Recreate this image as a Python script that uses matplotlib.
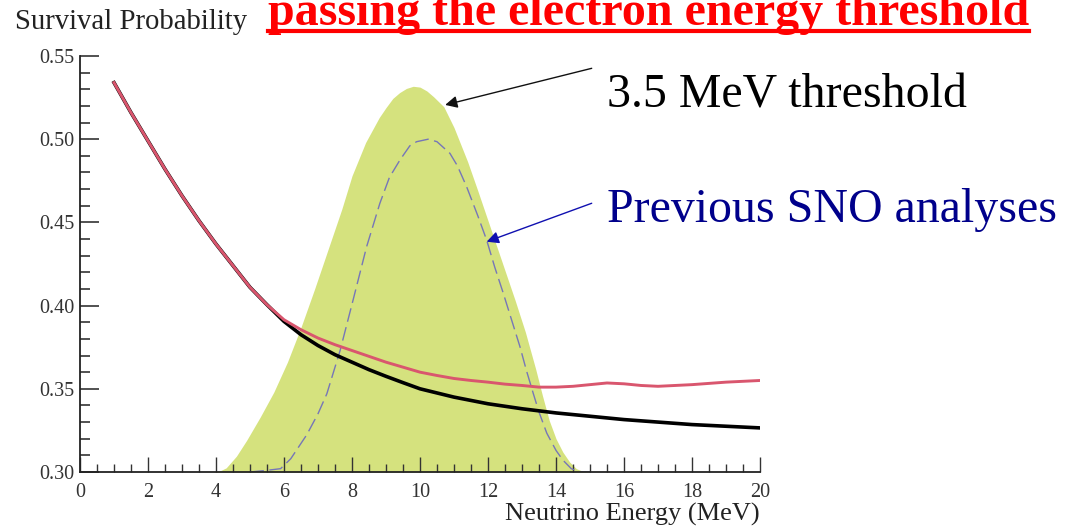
import matplotlib
matplotlib.use("Agg")
import matplotlib.pyplot as plt
from matplotlib.lines import Line2D
from matplotlib.ticker import MultipleLocator

plt.rcParams.update({
    "font.family": ["Liberation Serif", "DejaVu Serif"],
    "font.size": 14,
    "axes.linewidth": 1.3,
    "axes.edgecolor": "#222222",
})

# survival probability curves (neutrino energy in MeV)
energy_black = [1.0, 1.5, 2.0, 2.5, 3.0, 3.5, 4.0, 4.5, 5.0, 5.5, 6.0, 6.5,
                7.0, 7.5, 8.0, 8.5, 9.0, 9.5, 10.0, 11.0, 12.0, 13.0, 14.0,
                15.0, 16.0, 17.0, 18.0, 19.0, 20.0]
prob_black = [0.534, 0.516, 0.499, 0.482, 0.466, 0.451, 0.437, 0.424, 0.411,
              0.4005, 0.3905, 0.3825, 0.376, 0.3705, 0.366, 0.3615, 0.3575,
              0.3537, 0.350, 0.345, 0.341, 0.338, 0.3355, 0.3335, 0.3315,
              0.330, 0.3285, 0.3275, 0.3265]

energy_red = [1.0, 1.5, 2.0, 2.5, 3.0, 3.5, 4.0, 4.5, 5.0, 5.5, 6.0, 6.5,
              7.0, 7.5, 8.0, 8.5, 9.0, 9.5, 10.0, 10.5, 11.0, 11.5, 12.0,
              12.5, 13.0, 13.5, 14.0, 14.5, 15.0, 15.5, 16.0, 16.5, 17.0,
              17.5, 18.0, 19.0, 20.0]
prob_red = [0.534, 0.516, 0.499, 0.482, 0.466, 0.451, 0.437, 0.424, 0.411,
            0.4005, 0.3915, 0.3855, 0.3805, 0.3765, 0.373, 0.3695, 0.366,
            0.363, 0.360, 0.358, 0.3562, 0.355, 0.354, 0.3528, 0.352, 0.351,
            0.351, 0.3515, 0.3525, 0.3535, 0.353, 0.352, 0.3515, 0.352,
            0.3525, 0.354, 0.355]

# detected spectrum, 3.5 MeV threshold (filled)
energy_thr35 = [3.9, 4.1, 4.3, 4.6, 4.9, 5.3, 5.7, 6.1, 6.5, 6.9, 7.3, 7.7,
                8.0, 8.4, 8.8, 9.0, 9.2, 9.4, 9.6, 9.8, 10.0, 10.2, 10.4,
                10.7, 11.0, 11.4, 11.7, 12.1, 12.4, 12.8, 13.1, 13.4, 13.6,
                13.8, 14.0, 14.2, 14.4, 14.6, 14.8, 15.0]
level_thr35 = [0.300, 0.3005, 0.3025, 0.3095, 0.319, 0.333, 0.348, 0.366,
               0.387, 0.410, 0.434, 0.458, 0.478, 0.498, 0.513, 0.519,
               0.5245, 0.528, 0.5305, 0.5318, 0.5313, 0.529, 0.5255, 0.5195,
               0.507, 0.4865, 0.469, 0.445, 0.427, 0.403, 0.384, 0.362,
               0.346, 0.331, 0.320, 0.312, 0.306, 0.302, 0.3003, 0.300]

# spectrum used in previous SNO analyses (dashed)
energy_prev = [5.0, 5.5, 5.9, 6.2, 6.67, 7.0, 7.26, 7.65, 8.04, 8.43, 8.82,
               9.1, 9.41, 9.7, 9.9, 10.24, 10.5, 10.88, 11.1, 11.37, 11.7,
               11.96, 12.2, 12.45, 12.7, 12.94, 13.13, 13.33, 13.5, 13.73,
               14.0, 14.2, 14.45, 14.7, 15.0]
level_prev = [0.300, 0.301, 0.302, 0.308, 0.3224, 0.335, 0.347, 0.373,
              0.404, 0.4354, 0.4615, 0.477, 0.4875, 0.496, 0.4985, 0.500,
              0.4985, 0.4915, 0.484, 0.4715, 0.454, 0.4394, 0.423, 0.4074,
              0.391, 0.3753, 0.361, 0.3473, 0.336, 0.3233, 0.313, 0.3072,
              0.302, 0.300, 0.300]

fig = plt.figure(figsize=(10.71, 5.26), dpi=100)
ax = fig.add_axes([80 / 1071, 1 - 472 / 526, 680 / 1071, 416 / 526])

ax.fill_between(energy_thr35, 0.30, level_thr35, color="#d5e27e",
                linewidth=0, zorder=1)
ax.plot(energy_prev, level_prev, color="#7676b8", lw=1.0,
        dashes=(10, 4), zorder=2)
ax.plot(energy_black, prob_black, color="black", lw=2.6, zorder=3,
        solid_joinstyle="round")
ax.plot(energy_red, prob_red, color="#d9566e", lw=2.1, zorder=4,
        solid_joinstyle="round")

ax.set_xlim(0, 20)
ax.set_ylim(0.30, 0.55)
ax.xaxis.set_major_locator(MultipleLocator(2))
ax.xaxis.set_minor_locator(MultipleLocator(0.5))
ax.yaxis.set_major_locator(MultipleLocator(0.05))
ax.yaxis.set_minor_locator(MultipleLocator(0.01))
ax.yaxis.set_major_formatter(lambda v, pos: f"{v:.2f}")

for side in ("top", "right"):
    ax.spines[side].set_visible(False)

ax.tick_params(axis="both", which="both", direction="in",
               colors="#333333", labelsize=14.5)
ax.tick_params(axis="y", which="major", length=14, width=1.2, pad=4)
ax.tick_params(axis="y", which="minor", length=7, width=1.2)
ax.tick_params(axis="x", which="major", length=11, width=1.0, pad=8)
ax.tick_params(axis="x", which="minor", length=6, width=1.0)

ax.set_xlabel("Neutrino Energy (MeV)", fontsize=19, color="#222222")
ax.xaxis.set_label_coords(1.0, -0.075)
ax.xaxis.label.set_horizontalalignment("right")

fig.text(15 / 1071, 1 - 29 / 526, "Survival Probability", fontsize=20.7,
         color="#222222", va="baseline", ha="left")

title = fig.text(268 / 1071, 1 - 25 / 526,
                 "passing the electron energy threshold", fontsize=34.6,
                 fontweight="bold", color="#ff0000", va="baseline", ha="left")

# annotation labels sit to the right of the plotting area
fig.text(607 / 1071, 1 - 108 / 526, "3.5 MeV threshold", fontsize=34.5,
         color="black", va="baseline", ha="left")
fig.text(607 / 1071, 1 - 222 / 526, "Previous SNO analyses", fontsize=34.5,
         color="#00008b", va="baseline", ha="left")

ax.annotate("", xy=(10.74, 0.5206), xytext=(15.05, 0.5426),
            arrowprops=dict(arrowstyle="-|>", color="#111111", lw=1.0,
                            mutation_scale=18, shrinkA=0, shrinkB=0))
ax.annotate("", xy=(11.96, 0.4384), xytext=(15.05, 0.4615),
            arrowprops=dict(arrowstyle="-|>", color="#1010b0", lw=1.0,
                            mutation_scale=18, shrinkA=0, shrinkB=0))

# underline the red heading
fig.canvas.draw()
bb = title.get_window_extent().transformed(fig.transFigure.inverted())
y_line = 1 - 31 / 526
fig.add_artist(Line2D([bb.x0, bb.x1], [y_line, y_line], color="#ff0000",
                      lw=3.0, transform=fig.transFigure))

fig.savefig("out.png", dpi=100)
